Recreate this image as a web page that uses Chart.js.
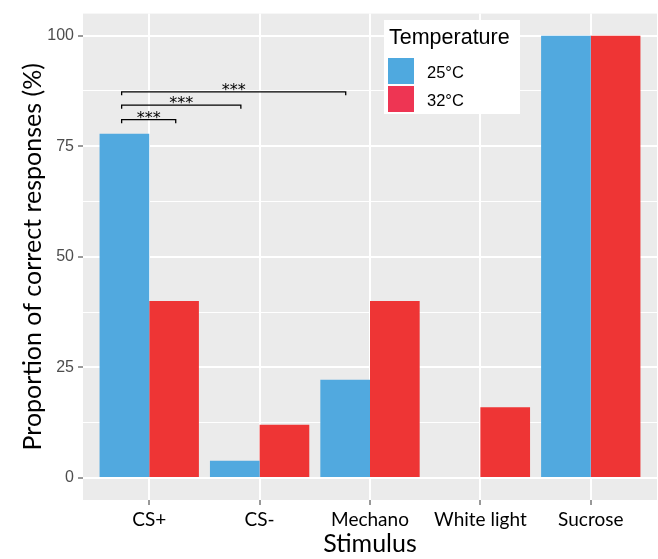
<!DOCTYPE html>
<html><head><meta charset="utf-8">
<script src="https://cdn.jsdelivr.net/npm/chart.js@4"></script>
<style>html,body{margin:0;padding:0;background:#fff}</style>
</head><body>
<canvas id="c" width="658" height="559"></canvas>
<script>
const categories = ['CS+', 'CS-', 'Mechano', 'White light', 'Sucrose'];
const temp25 = [77.8, 3.9, 22.2, 0, 100];
const temp32 = [40, 12, 40, 16, 100];
const seriesNames = ['25°C', '32°C'];
const legendTitle = 'Temperature';
const yTickValues = [0, 25, 50, 75, 100];
const yMinorValues = [12.5, 37.5, 62.5, 87.5];
const bracketFrom = [0.75, 0.75, 0.75];
const bracketTo = [1.24, 1.83, 2.78];
const bracketY = [81, 84.3, 87.3];
const bracketText = ['***', '***', '***'];

const barColors = ['#51A9DF', '#EE3535'];
const keyColors = ['#4FA9DF', '#EE3553'];

const bgPlugin = {
  id: 'panelBg',
  beforeDraw(chart) {
    const {ctx, chartArea: a} = chart;
    ctx.save();
    ctx.fillStyle = '#EBEBEB';
    ctx.fillRect(a.left, a.top, a.right - a.left, a.bottom - a.top);
    ctx.restore();
  }
};

const annotPlugin = {
  id: 'annot',
  afterDatasetsDraw(chart) {
    const ctx = chart.ctx;
    const xs = chart.scales.x, ys = chart.scales.y;
    ctx.save();
    ctx.strokeStyle = '#000';
    ctx.lineWidth = 1.3;
    ctx.fillStyle = '#000';
    ctx.font = '16px "DejaVu Sans"';
    ctx.textAlign = 'center';
    ctx.textBaseline = 'alphabetic';
    for (let i = 0; i < bracketFrom.length; i++) {
      const x1 = xs.getPixelForValue(bracketFrom[i]);
      const x2 = xs.getPixelForValue(bracketTo[i]);
      const y = ys.getPixelForValue(bracketY[i]);
      ctx.beginPath();
      ctx.moveTo(x1, y + 3.5);
      ctx.lineTo(x1, y);
      ctx.lineTo(x2, y);
      ctx.lineTo(x2, y + 3.5);
      ctx.stroke();
      ctx.fillText(bracketText[i], (x1 + x2) / 2, y + 3);
    }
    const lx = 384, ly = 20, lw = 136, lh = 94;
    ctx.fillStyle = '#FFFFFF';
    ctx.fillRect(lx, ly, lw, lh);
    ctx.fillStyle = '#000';
    ctx.textAlign = 'left';
    ctx.font = '21.5px "Liberation Sans", Arial, sans-serif';
    ctx.fillText(legendTitle, 389, 44);
    ctx.font = '16.5px "Liberation Sans", Arial, sans-serif';
    for (let i = 0; i < seriesNames.length; i++) {
      const ky = 58 + i * 28;
      ctx.fillStyle = keyColors[i];
      ctx.fillRect(388, ky, 26, 26);
      ctx.fillStyle = '#000';
      ctx.fillText(seriesNames[i], 427, ky + 20);
    }
    ctx.restore();
  }
};

new Chart(document.getElementById('c'), {
  type: 'bar',
  data: {
    datasets: seriesNames.map((n, k) => ({
      label: n,
      data: (k === 0 ? temp25 : temp32).map((v, i) => ({x: i + 1, y: v})),
      backgroundColor: barColors[k],
      borderWidth: 0,
      categoryPercentage: 0.9,
      barPercentage: 1.0
    }))
  },
  options: {
    responsive: false,
    animation: false,
    events: [],
    layout: {padding: {top: 8, right: 1, left: 0, bottom: 0}},
    plugins: {legend: {display: false}, tooltip: {enabled: false}},
    scales: {
      x: {
        type: 'linear',
        offset: false,
        min: 0.4, max: 5.6,
        afterBuildTicks(s) { s.ticks = categories.map((c, i) => ({value: i + 1})); },
        afterFit(s) { s.height = 59; },
        border: {display: false},
        grid: {offset: false, color: '#FFFFFF', lineWidth: 2, tickColor: '#333333', tickLength: 5, tickWidth: 1},
        ticks: {
          autoSkip: false, maxRotation: 0, padding: 3, color: '#000',
          font: {family: 'Lato, "Open Sans", sans-serif', size: 19},
          callback: (v) => categories[Math.round(v) - 1]
        },
        title: {display: true, text: 'Stimulus', color: '#000',
          font: {family: 'Lato, "Open Sans", sans-serif', size: 25, lineHeight: 1.2}, padding: {top: 0, bottom: 0}}
      },
      y: {
        type: 'linear',
        min: -5, max: 105,
        afterBuildTicks(s) {
          s.ticks = yTickValues.concat(yMinorValues).sort((a, b) => a - b).map(v => ({value: v}));
        },
        afterFit(s) { s.width = 83; },
        border: {display: false},
        grid: {
          color: '#FFFFFF',
          lineWidth: (c) => yTickValues.includes(c.tick && c.tick.value) ? 2 : 1,
          tickColor: (c) => yTickValues.includes(c.tick && c.tick.value) ? '#333333' : 'rgba(0,0,0,0)',
          tickLength: 5, tickWidth: 1
        },
        ticks: {
          padding: 4, color: '#4D4D4D',
          font: {family: '"Liberation Sans", Arial, sans-serif', size: 16},
          callback: (v) => yTickValues.includes(v) ? String(v) : ''
        },
        title: {display: true, text: 'Proportion of correct responses (%)', color: '#000',
          font: {family: 'Lato, "Open Sans", sans-serif', size: 25, lineHeight: 1.2}, padding: {top: 18, bottom: 0}}
      }
    }
  },
  plugins: [bgPlugin, annotPlugin]
});
</script>
</body></html>
